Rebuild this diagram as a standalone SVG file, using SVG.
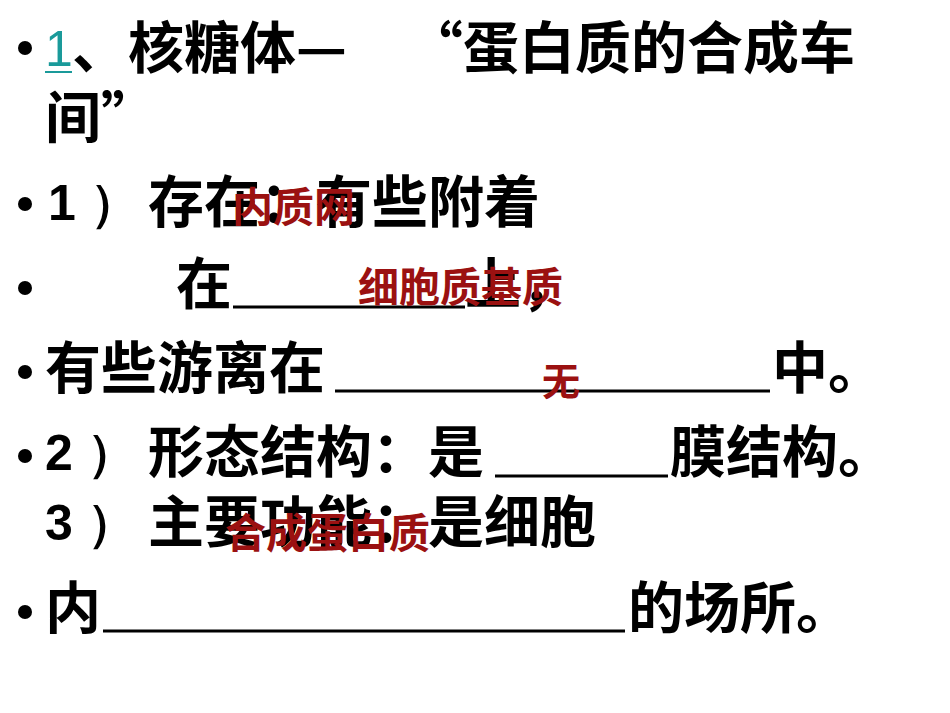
<svg xmlns="http://www.w3.org/2000/svg" width="950" height="713" viewBox="0 0 950 713">
<style>
.t{font-family:"Noto Sans CJK SC","Liberation Sans",sans-serif;font-weight:bold;font-size:56px;fill:#000}
.n{font-family:"Liberation Sans",sans-serif;font-weight:bold;font-size:50px;fill:#000}
.r{font-family:"Noto Sans CJK SC","Liberation Sans",sans-serif;font-weight:bold;fill:#9b1111}
.u{stroke:#000;stroke-width:3}
</style>
<rect width="950" height="713" fill="#fff"/>
<g id="bullets" fill="#000">
<circle cx="25" cy="48" r="7"/><circle cx="25" cy="204" r="7"/><circle cx="25" cy="288" r="7"/><circle cx="25" cy="372" r="7"/><circle cx="25" cy="456" r="7"/><circle cx="25" cy="612" r="7"/>
</g>
<g id="line1">
<text x="45" y="66" style="fill:#1a9a9a;font-family:'Liberation Sans',sans-serif;font-size:50px">1</text>
<line x1="45" y1="72" x2="72" y2="72" stroke="#1a9a9a" stroke-width="2"/>
<text class="t" x="72" y="68">、核糖体—</text>
<text class="t" x="407" y="68">“蛋白质的合成车</text>
<text class="t" x="45" y="138">间”</text>
</g>
<g id="line3"><text class="n" x="48" y="220">1 ）</text><text class="t" x="148" y="222">存在：有些附着</text></g>
<g id="line4"><text class="t" x="176" y="304">在</text><line class="u" x1="233" y1="307" x2="465" y2="307"/><text class="t" x="465" y="304">上，</text></g>
<g id="line5"><text class="t" x="45" y="388">有些游离在</text><line class="u" x1="335" y1="391" x2="770" y2="391"/><text class="t" x="772" y="388">中。</text></g>
<g id="line6"><text class="n" x="45" y="470">2 ）</text><text class="t" x="148" y="472">形态结构：是</text><line class="u" x1="495" y1="476" x2="668" y2="476"/><text class="t" x="670" y="472">膜结构。</text></g>
<g id="line7"><text class="n" x="45" y="540">3 ）</text><text class="t" x="148" y="542">主要功能：是细胞</text></g>
<g id="line8"><text class="t" x="45" y="628">内</text><line class="u" x1="103" y1="631" x2="625" y2="631"/><text class="t" x="628" y="628">的场所。</text></g>
<g id="answers">
<text class="r" x="232" y="222" font-size="41">内质网</text>
<text class="r" x="358" y="302" font-size="41">细胞质基质</text>
<text class="r" x="542" y="395" font-size="38">无</text>
<text class="r" x="225" y="548" font-size="41">合成蛋白质</text>
</g>
</svg>
